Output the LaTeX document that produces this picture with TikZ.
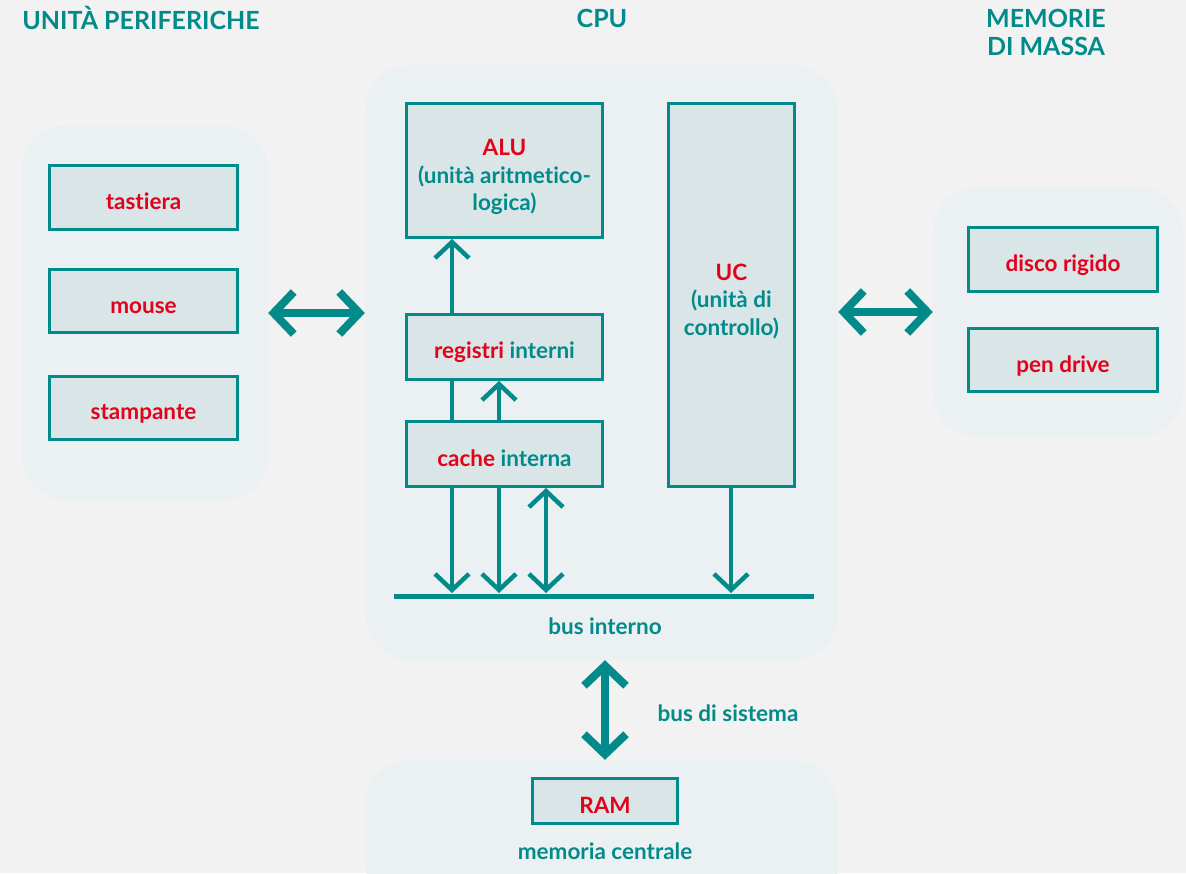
\documentclass[tikz,border=0pt]{standalone}
\usepackage{fontspec}
\setmainfont{Lato}[Ligatures=NoCommon]
\usetikzlibrary{arrows.meta,calc}
\definecolor{teal1}{HTML}{008B8A}
\definecolor{red1}{HTML}{E2001A}
\definecolor{bg}{HTML}{F2F2F2}
\definecolor{panelc}{HTML}{EBF1F3}
\definecolor{boxfill}{HTML}{DAE5E7}
\newcommand{\bxt}[2][6pt]{\raisebox{-#1}[\height][\depth]{\begin{tabular}{@{}c@{}}#2\end{tabular}}}
\begin{document}
\begin{tikzpicture}[x=1pt,y=-1pt,
 panel/.style={fill=panelc, rounded corners=45pt, draw=none, inner sep=0pt},
 box/.style={draw=teal1, line width=3pt, fill=boxfill, inner sep=0pt, align=center, font=\fontsize{22.5}{27.5}\selectfont\bfseries, text=red1},
 lbl/.style={text=teal1, font=\fontsize{22.5}{28}\selectfont\bfseries, align=center, inner sep=0pt},
 ttl/.style={text=teal1, font=\fontsize{25}{28}\selectfont\bfseries, align=center, inner sep=0pt},
 bigtip/.tip={Straight Barb[sharp,length=20pt,width=42pt]},
 smalltip/.tip={Straight Barb[sharp,length=16pt,width=34pt]},
 bigarrow/.style={draw=teal1, line width=8pt, bigtip-bigtip},
 thinarrow/.style={draw=teal1, line width=4.5pt, -smalltip},
 thinboth/.style={draw=teal1, line width=4.5pt, smalltip-smalltip},
 tline/.style={draw=teal1, line width=4.5pt},
]
\clip (0,0) rectangle (1186,873);
\fill[bg] (0,0) rectangle (1186,873);

% panels
\node[panel, minimum width=246pt, minimum height=375pt] (lp) at (145,312.5) {};
\node[panel, minimum width=473pt, minimum height=595pt] (cpu) at (601.5,362.5) {};
\node[panel, minimum width=250pt, minimum height=250pt] (rp) at (1058,312) {};
\node[panel, minimum width=473pt, minimum height=150pt] (mp) at (601.5,835) {};

% titles
\node[ttl] (t1) at (141,18) {UNITÀ PERIFERICHE};
\node[ttl] (t2) at (602,18) {CPU};
\node[ttl] (t3) at (1046,32) {MEMORIE\\DI MASSA};

% peripheral boxes
\node[box, minimum width=188pt, minimum height=64pt] (tast) at (143.5,197.5) {\bxt{tastiera}};
\node[box, minimum width=188pt, minimum height=63pt] (mouse) at (143.5,301) {\bxt[7pt]{mouse}};
\node[box, minimum width=188pt, minimum height=63pt] (stamp) at (143.5,408) {\bxt{stampante}};

% CPU boxes
\node[box, minimum width=196pt, minimum height=134pt] (alu) at (504.5,170.5) {\bxt[7pt]{ALU\\\textcolor{teal1}{(unità aritmetico-}\\\textcolor{teal1}{logica)}}};
\node[box, minimum width=126pt, minimum height=383pt] (uc) at (731.5,295) {\bxt[7pt]{UC\\\textcolor{teal1}{(unità di}\\\textcolor{teal1}{controllo)}}};
\node[box, minimum width=196pt, minimum height=65pt] (reg) at (504.5,347) {\bxt{registri \textcolor{teal1}{interni}}};
\node[box, minimum width=196pt, minimum height=65pt] (cache) at (504.5,454) {\bxt[7pt]{cache \textcolor{teal1}{interna}}};

% mass memory boxes
\node[box, minimum width=189pt, minimum height=64pt] (disco) at (1063,259.5) {\bxt{disco rigido}};
\node[box, minimum width=189pt, minimum height=63pt] (pen) at (1063,360) {\bxt[7pt]{pen drive}};

% RAM
\node[box, minimum width=145pt, minimum height=45pt] (ram) at (605,801) {\bxt[7pt]{RAM}};

% labels
\node[lbl] (busint) at (605,626) {bus interno};
\node[lbl] (bussis) at (728,713) {bus di sistema};
\node[lbl] (memc) at (605,851) {memoria centrale};

% bus interno line
\coordinate (busL) at (394,596);
\coordinate (busR) at (814,596);
\coordinate (bus) at (604,593);
\draw[teal1, line width=5pt] (busL) -- (busR);

% internal arrows
\draw[thinarrow] (reg.north -| 452,0) -- (alu.south -| 452,0);
\draw[tline] (cache.north -| 452,0) -- (reg.south -| 452,0);
\draw[thinarrow] (cache.north -| 499,0) -- (reg.south -| 499,0);
\draw[thinarrow] (cache.south -| 452,0) -- (bus -| 452,0);
\draw[thinarrow] (cache.south -| 499,0) -- (bus -| 499,0);
\draw[thinboth] (cache.south -| 546,0) -- (bus -| 546,0);
\draw[thinarrow] (uc.south -| 731,0) -- (bus -| 731,0);

% big arrows
\draw[bigarrow] (lp.east |- 0,313) -- (cpu.west |- 0,313);
\draw[bigarrow] (cpu.east |- 0,312) -- (rp.west |- 0,312);
\draw[bigarrow] (cpu.south -| 605,0) -- (mp.north -| 605,0);
\end{tikzpicture}
\end{document}
